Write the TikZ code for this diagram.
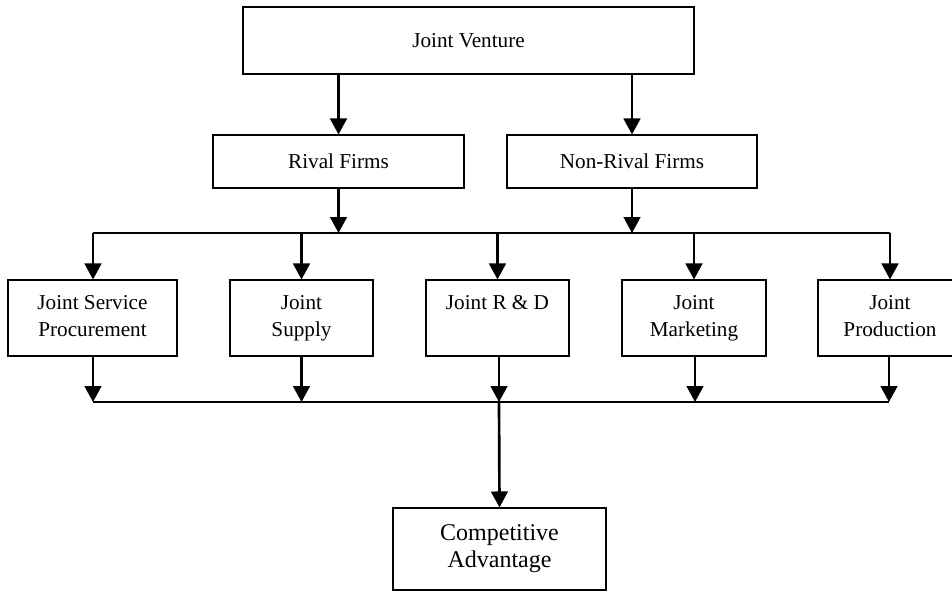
\documentclass[tikz,border=0pt]{standalone}
\usepackage{fontspec}
\setmainfont{Liberation Serif}
\usetikzlibrary{arrows.meta}
\tikzset{
  box/.style={draw, line width=0.8pt, align=center, inner sep=0pt,
    font=\fontsize{15.9}{20.25}\selectfont},
  bigbox/.style={box, font=\fontsize{18}{20.25}\selectfont},
  arr/.style={line width=2pt, -{Triangle[length=12pt,width=12.5pt]}},
  hline/.style={line width=1pt}
}
\begin{document}
\begin{tikzpicture}[x=0.75pt,y=-0.75pt]
\useasboundingbox (0,0) rectangle (952,593);
\clip (0,0) rectangle (952,593);
% nodes
\node[box, minimum width=338.25pt, minimum height=50.25pt] (jv) at (468.5,40.5) {Joint Venture};
\node[box, minimum width=188.25pt, minimum height=39.75pt] (rival) at (338.5,161.5) {Rival Firms};
\node[box, minimum width=187.5pt, minimum height=39.75pt] (nonrival) at (632,161.5) {Non-Rival Firms};
\node[box, minimum width=126.75pt, minimum height=57pt] (jsp) at (92.5,318) {\strut Joint Service\\\strut Procurement};
\node[box, minimum width=107.25pt, minimum height=57pt] (sup) at (301.5,318) {\strut Joint\\\strut Supply};
\node[box, minimum width=107.25pt, minimum height=57pt] (rd) at (497.5,318) {\strut Joint R \& D\\\strut};
\node[box, minimum width=108pt, minimum height=57pt] (mkt) at (694,318) {\strut Joint\\\strut Marketing};
\node[box, minimum width=108pt, minimum height=57pt] (prod) at (890,318) {\strut Joint\\\strut Production};
\node[bigbox, minimum width=159.75pt, minimum height=61.5pt] (ca) at (499.5,549) {\strut Competitive\\\strut Advantage};
% junction lines
\coordinate (t1) at (93,233);
\coordinate (t2) at (301.5,233);
\coordinate (t3) at (497.5,233);
\coordinate (t4) at (694,233);
\coordinate (t5) at (890,233);
\coordinate (b1) at (93,402);
\coordinate (b2) at (301.5,402);
\coordinate (b3) at (499,402);
\coordinate (b4) at (695,402);
\coordinate (b5) at (889,402);
\draw[hline] (t1) -- (t5);
\draw[hline] (b1) -- (b5);
% arrows
\draw[arr] (jv.south -| rival) -- (rival.north);
\draw[arr] (jv.south -| nonrival) -- (nonrival.north);
\draw[arr] (rival.south) -- (rival |- t1);
\draw[arr] (nonrival.south) -- (nonrival |- t1);
\draw[arr] (t1) -- (t1 |- jsp.north);
\draw[arr] (t2) -- (t2 |- sup.north);
\draw[arr] (t3) -- (t3 |- rd.north);
\draw[arr] (t4) -- (t4 |- mkt.north);
\draw[arr] (t5) -- (t5 |- prod.north);
\draw[arr] (b1 |- jsp.south) -- (b1);
\draw[arr] (b2 |- sup.south) -- (b2);
\draw[arr] (b3 |- rd.south) -- (b3);
\draw[arr] (b4 |- mkt.south) -- (b4);
\draw[arr] (b5 |- prod.south) -- (b5);
\draw[arr] (b3) -- (ca.north);
\end{tikzpicture}
\end{document}
